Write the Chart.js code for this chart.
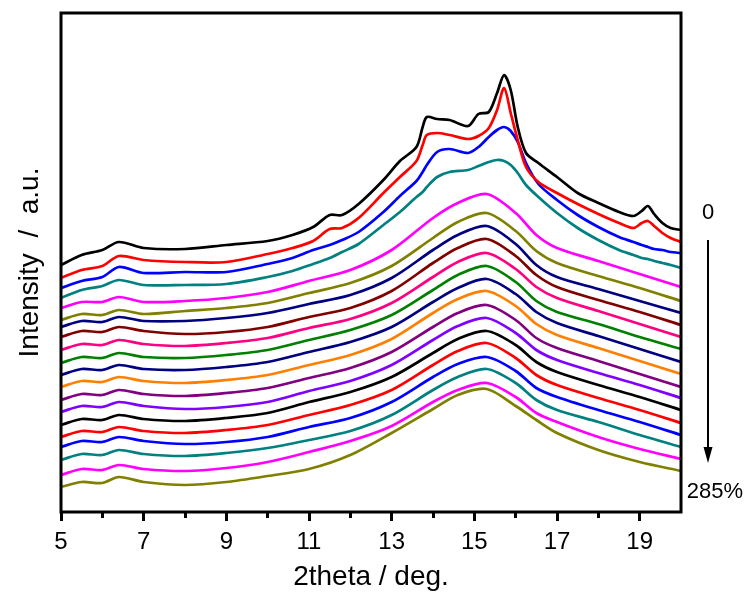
<!DOCTYPE html>
<html>
<head>
<meta charset="utf-8">
<title>XRD vs strain</title>
<script src="https://cdn.jsdelivr.net/npm/chart.js@4.4.1/dist/chart.umd.min.js"></script>
<style>
  html, body { margin: 0; padding: 0; background: #fff; }
  #wrap { width: 747px; height: 595px; }
</style>
</head>
<body>
<div id="wrap"><canvas id="xrd" width="747" height="595"></canvas></div>
<script>
  "use strict";

  // 2theta grids (deg.) — finer grid for the first curves that still show crystalline peaks
  var X_TOP = [5, 5.5, 6, 6.4, 7, 8, 9, 10, 10.6, 11.1, 11.5, 11.8, 12.2, 12.8, 13.2,
    13.6, 13.75, 13.85, 14.1, 14.4, 14.85, 15.1, 15.35, 15.55, 15.72, 15.88, 16.05, 16.25, 16.55, 17,
    17.5, 18, 18.5, 18.85, 19.05, 19.2, 19.35, 19.55, 19.75, 20];
  var X_LOW = [5, 5.5, 6, 6.4, 7, 8, 9, 10, 11, 12, 13, 14, 14.6, 15.3, 16, 16.5, 17, 18, 19, 20];

  var X_TICKS = [5, 7, 9, 11, 13, 15, 17, 19];
  var X_MINOR = [6, 8, 10, 12, 14, 16, 18];

  // strain of each pattern (%), top to bottom
  var STRAIN = [0, 15, 30, 45, 60, 75, 90, 105, 120, 135, 150, 165, 180, 195, 210, 225, 240, 255, 270, 285];
  var STRAIN_LABELS = ["0", "285%"];

  var COLORS = ["#000000", "#ff0000", "#0000ff", "#008080", "#ff00ff", "#808000", "#000080", "#800000",
    "#ff0080", "#008000", "#000080", "#ff8000", "#800080", "#8000ff", "#000000", "#ff0000",
    "#0000ff", "#008080", "#ff00ff", "#808000"];

  // intensities (a.u., stacked) on X_TOP
  var s0 = [247, 257, 262, 270, 264, 263, 267, 271, 277, 285, 297, 297, 308, 332, 351,
    365, 385, 395, 393, 392, 386, 398, 400, 419, 437, 422, 385, 359, 349, 335,
    319, 309, 300, 296, 301, 306, 298, 289, 284, 282];
  var s15 = [234, 242, 246, 256, 252, 250, 250, 258, 264, 271, 283, 284, 294, 319, 335,
    351, 367, 377, 379, 377, 373, 376, 384, 402, 424, 399, 372, 345, 330, 319,
    308, 298, 289, 284, 289, 291, 286, 279, 274, 270];
  var s30 = [224, 231, 235, 245, 239, 240, 240, 248, 254, 262, 267, 272, 280, 300, 316,
    331, 340, 347, 360, 363, 359, 365, 375, 382, 385, 381, 370, 349, 328, 312,
    297, 285, 275, 270, 267, 265, 263, 262, 260, 259];
  var s45 = [214, 222, 226, 232, 227, 227, 228, 235, 241, 248, 254, 260, 268, 287, 300,
    315, 320, 325, 335, 340, 342, 346, 350, 352, 351, 347, 339, 327, 315, 299,
    284, 272, 262, 257, 254, 253, 251, 249, 247, 244];

  // intensities (a.u., stacked) on X_LOW
  var s60 = [204, 210, 210, 215, 210, 211, 214, 220, 231, 242, 262, 294, 309, 318, 299, 277, 264, 251, 238, 225];
  var s75 = [192, 198, 197, 202, 198, 201, 204, 209, 219, 229, 246, 274, 290, 299, 281, 261, 249, 236, 224, 211];
  var s90 = [185, 191, 190, 195, 191, 191, 194, 199, 208, 217, 234, 262, 277, 286, 268, 247, 235, 223, 211, 199];
  var s105 = [175, 181, 180, 185, 181, 178, 180, 185, 195, 204, 221, 249, 264, 273, 256, 237, 225, 212, 200, 187];
  var s120 = [162, 168, 167, 172, 168, 166, 169, 174, 184, 193, 209, 235, 250, 259, 243, 225, 214, 201, 188, 175];
  var s135 = [149, 155, 154, 159, 155, 154, 157, 162, 172, 182, 197, 222, 237, 246, 230, 211, 200, 188, 175, 163];
  var s150 = [137, 143, 142, 147, 143, 142, 145, 150, 160, 170, 185, 210, 224, 233, 218, 200, 189, 176, 163, 150];
  var s165 = [125, 131, 130, 135, 131, 129, 132, 137, 147, 157, 173, 199, 213, 221, 206, 188, 177, 164, 151, 138];
  var s180 = [112, 118, 117, 122, 118, 116, 119, 124, 134, 144, 160, 185, 199, 207, 192, 174, 164, 151, 138, 125];
  var s195 = [100, 106, 105, 110, 106, 103, 105, 110, 121, 131, 147, 172, 186, 194, 179, 162, 152, 139, 127, 114];
  var s210 = [87, 93, 92, 97, 93, 91, 94, 99, 110, 120, 135, 159, 173, 181, 167, 150, 140, 127, 115, 102];
  var s225 = [75, 81, 80, 85, 81, 79, 82, 87, 97, 107, 122, 147, 161, 169, 154, 137, 127, 114, 102, 89];
  var s240 = [65, 71, 70, 75, 71, 68, 70, 75, 85, 94, 110, 135, 148, 155, 141, 124, 115, 102, 90, 77];
  var s255 = [52, 58, 57, 62, 58, 56, 59, 64, 72, 81, 97, 122, 135, 143, 129, 112, 102, 90, 77, 65];
  var s270 = [37, 43, 42, 47, 43, 41, 44, 50, 60, 71, 86, 110, 122, 129, 115, 99, 90, 75, 63, 53];
  var s285 = [25, 30, 29, 35, 30, 27, 30, 36, 43, 57, 79, 103, 117, 123, 106, 92, 79, 62, 50, 41];

  var SERIES = [s0, s15, s30, s45, s60, s75, s90, s105, s120, s135,
    s150, s165, s180, s195, s210, s225, s240, s255, s270, s285];

  var FONT = '"Liberation Sans", Arial, sans-serif';

  function points(xs, ys) {
    return ys.map(function (y, i) { return { x: xs[i], y: y }; });
  }

  var datasets = SERIES.map(function (ys, i) {
    var xs = ys.length === X_TOP.length ? X_TOP : X_LOW;
    return {
      label: STRAIN[i] + "%",
      data: points(xs, ys),
      borderColor: COLORS[i],
      borderWidth: 2.7,
      pointRadius: 0,
      fill: false,
      tension: 0.3
    };
  });

  // box around the plot + the strain arrow on the right
  var framePlugin = {
    id: "frame",
    afterDatasetsDraw: function (chart) {
      var ctx = chart.ctx, a = chart.chartArea;
      ctx.save();
      ctx.strokeStyle = "#000";
      ctx.lineWidth = 3;
      ctx.strokeRect(a.left, a.top, a.right - a.left, a.bottom - a.top);

      var cx = a.right + 27;
      ctx.fillStyle = "#000";
      ctx.font = "22px " + FONT;
      ctx.textAlign = "center";
      ctx.textBaseline = "middle";
      ctx.fillText(STRAIN_LABELS[0], cx, a.top + 200);
      ctx.fillText(STRAIN_LABELS[1], cx + 7, a.top + 479);

      var y1 = a.top + 227, y2 = a.top + 450;
      ctx.lineWidth = 2;
      ctx.beginPath();
      ctx.moveTo(cx, y1);
      ctx.lineTo(cx, y2 - 12);
      ctx.stroke();
      ctx.beginPath();
      ctx.moveTo(cx - 4.5, y2 - 16);
      ctx.lineTo(cx + 4.5, y2 - 16);
      ctx.lineTo(cx, y2);
      ctx.closePath();
      ctx.fill();
      ctx.restore();
    }
  };

  new Chart(document.getElementById("xrd"), {
    type: "line",
    data: { datasets: datasets },
    plugins: [framePlugin],
    options: {
      responsive: false,
      animation: false,
      layout: { padding: { top: 13, right: 66, left: 0, bottom: 0 } },
      plugins: { legend: { display: false }, tooltip: { enabled: false } },
      scales: {
        x: {
          type: "linear", position: "bottom", weight: 1, min: 5, max: 20,
          afterBuildTicks: function (s) { s.ticks = X_TICKS.map(function (v) { return { value: v }; }); },
          afterFit: function (s) { s.height = 83; },
          border: { display: false },
          grid: { drawOnChartArea: false, tickLength: 9, tickWidth: 3, tickColor: "#000" },
          ticks: { color: "#000", font: { family: FONT, size: 24 }, padding: 7, maxRotation: 0, autoSkip: false },
          title: { display: true, text: "2theta / deg.", color: "#000", font: { family: FONT, size: 28 }, padding: { top: 0, bottom: 1 } }
        },
        xMinor: {
          type: "linear", position: "bottom", weight: 0, min: 5, max: 20,
          afterBuildTicks: function (s) { s.ticks = X_MINOR.map(function (v) { return { value: v }; }); },
          afterFit: function (s) { s.height = 0; },
          border: { display: false },
          grid: { drawOnChartArea: false, tickLength: 6, tickWidth: 3, tickColor: "#000" },
          ticks: { display: false }
        },
        y: {
          type: "linear", min: 0, max: 499,
          afterFit: function (s) { s.width = 61; },
          border: { display: false },
          grid: { display: false },
          ticks: { display: false },
          title: { display: true, text: "Intensity  /  a.u.", color: "#000", font: { family: FONT, size: 28 }, padding: { top: 13, bottom: 0 } }
        }
      }
    }
  });
</script>
</body>
</html>
